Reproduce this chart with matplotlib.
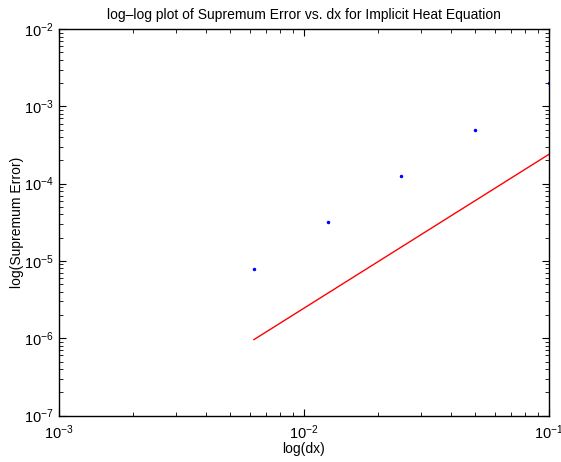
import matplotlib
matplotlib.use('Agg')
import matplotlib.pyplot as plt

plt.rcParams['font.family'] = ['Liberation Sans', 'DejaVu Sans']
plt.rcParams['mathtext.fontset'] = 'custom'
plt.rcParams['mathtext.rm'] = 'Liberation Sans'
plt.rcParams['mathtext.it'] = 'Liberation Sans'

# grid spacings and measured supremum errors
dx = [0.00625, 0.0125, 0.025, 0.05, 0.1]
sup_error = [7.9e-6, 3.15e-5, 1.25e-4, 4.95e-4, 2.0e-3]

# reference line (second order)
ref_dx = [0.00625, 0.1]
ref_err = [9.6e-7, 2.4e-4]

fig = plt.figure(figsize=(5.61, 4.62), dpi=100)
ax = fig.add_axes([0.105, 0.1006, 0.8736, 0.8364])

ax.loglog(dx, sup_error, '.', color='blue', markersize=3)
ax.loglog(ref_dx, ref_err, '-', color='red', linewidth=1)

ax.set_xlim(1e-3, 1e-1)
ax.set_ylim(1e-7, 1e-2)

ax.tick_params(which='both', direction='in', top=True, right=True, labelsize=10.5)
ax.tick_params(which='major', length=5)
ax.tick_params(which='minor', length=3)
ax.tick_params(axis='x', which='major', pad=6)
ax.tick_params(axis='y', which='major', pad=4)
for s in ax.spines.values():
    s.set_linewidth(1)

ax.set_xlabel('log(dx)', fontsize=10, labelpad=0)
ax.set_ylabel('log(Supremum Error)', fontsize=10)
ax.yaxis.set_label_coords(-0.072, 0.5)
ax.set_title('log\u2013log plot of Supremum Error vs. dx for Implicit Heat Equation', fontsize=10, pad=7)

fig.savefig('out.png', dpi=100)
